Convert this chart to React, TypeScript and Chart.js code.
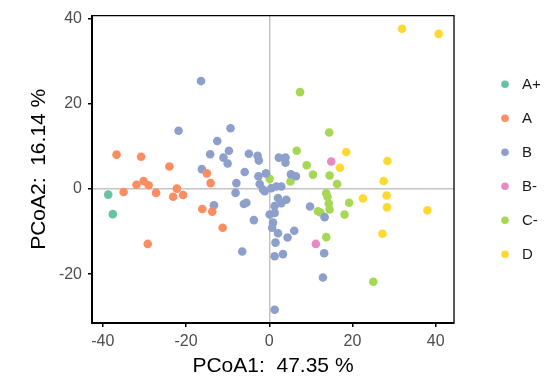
import React, { useEffect, useRef } from "react";
import { Chart, registerables } from "chart.js";

Chart.register(...registerables);

const groupLabels = ["A+", "A", "B", "B-", "C-", "D"];
const groupColors = ["#66C2A5", "#FC8D62", "#8DA0CB", "#E78AC3", "#A6D854", "#FFD92F"];

const pointsAPlus: [number, number][] = [[-38.7, -1.3], [-37.6, -5.9]];

const pointsA: [number, number][] = [
  [-36.7, 8.1], [-30.8, 7.6], [-24.0, 5.3], [-15.0, 3.7], [-14.1, 1.4], [-31.9, 1.0],
  [-30.2, 1.9], [-29.0, 0.9], [-35.0, -0.7], [-27.2, -0.9], [-22.2, 0.1], [-23.1, -1.8],
  [-20.7, -1.4], [-16.1, -4.7], [-13.7, -5.3], [-11.2, -9.1], [-29.2, -12.9],
];

const pointsB: [number, number][] = [
  [-16.4, 25.4], [-21.8, 13.7], [-9.3, 14.3], [-12.5, 11.3], [-14.2, 8.2], [-9.7, 9.0],
  [-11.0, 7.4], [-10.0, 6.0], [-4.9, 8.3], [-2.8, 7.8], [-2.5, 6.7], [-16.2, 4.7],
  [-5.9, 4.0], [-2.6, 3.0], [-0.8, 3.7], [-2.3, 1.2], [-7.9, 1.4], [-8.1, -0.9],
  [-1.5, -0.1], [-1.1, -0.5], [0.5, 0.2], [-13.3, -3.8], [-6.1, -3.5], [-5.5, -3.2],
  [-3.7, -7.3], [-6.5, -14.7], [1.3, -28.4], [2.3, 7.4], [3.9, 7.4], [3.9, 6.2],
  [5.2, 3.5], [6.4, 3.0], [1.7, 0.6], [2.9, 0.6], [2.1, -2.1], [4.1, -2.5],
  [2.9, -3.3], [1.3, -4.0], [0.1, -6.0], [1.3, -5.6], [0.9, -7.9], [0.7, -9.1],
  [2.1, -10.4], [6.0, -9.8], [4.4, -11.4], [1.5, -12.6], [1.3, -15.8], [3.3, -15.3],
  [9.8, -4.1], [13.3, -6.6], [13.2, -15.1], [12.9, -20.8],
];

const pointsBMinus: [number, number][] = [[14.9, 6.5], [11.2, -12.9]];

const pointsCMinus: [number, number][] = [
  [0.1, 2.4], [6.6, 9.0], [9.0, 5.6], [10.5, 3.4], [14.5, 3.2], [16.3, 1.2],
  [5.1, 1.8], [13.7, -1.0], [14.0, -1.8], [14.3, -3.4], [14.5, -4.8], [11.7, -5.2],
  [12.3, -5.5], [19.2, -3.2], [18.1, -6.0], [13.7, -11.3], [25.0, -21.8], [7.4, 22.8],
  [14.4, 13.3],
];

const pointsD: [number, number][] = [
  [31.9, 37.7], [40.7, 36.5], [18.5, 8.7], [17.0, 5.0], [28.4, 6.6], [27.5, 1.9],
  [22.5, -2.2], [28.2, -1.5], [28.3, -4.3], [38.0, -5.0], [27.2, -10.5],
];

const groupPoints = [pointsAPlus, pointsA, pointsB, pointsBMinus, pointsCMinus, pointsD];

const xTickValues = [-40, -20, 0, 20, 40];
const yTickValues = [-20, 0, 20, 40];
const xLimits = [-42.6, 44.4];
const yLimits = [-31.5, 40.8];
const xTitle = "PCoA1:  47.35 %";
const yTitle = "PCoA2:  16.14 %";

const FONT = '"Liberation Sans", Arial, Helvetica, sans-serif';

const framePlugin = {
  id: "frameAndLegend",
  afterDatasetsDraw(chart: any) {
    const { ctx, chartArea } = chart;
    const { left, right, top, bottom } = chartArea;
    ctx.save();
    ctx.strokeStyle = "#000";
    ctx.lineWidth = 1.3;
    ctx.beginPath();
    ctx.moveTo(left, top);
    ctx.lineTo(right, top);
    ctx.lineTo(right, bottom);
    ctx.stroke();
    ctx.restore();
  },
  afterDraw(chart: any) {
    const { ctx, chartArea } = chart;
    const datasets = chart.data.datasets;
    const n = datasets.length;
    const spacing = 34;
    const cy = (chartArea.top + chartArea.bottom) / 2;
    const cx = chartArea.right + 51;
    ctx.save();
    ctx.font = `15px ${FONT}`;
    ctx.textBaseline = "middle";
    ctx.textAlign = "left";
    datasets.forEach((ds: any, i: number) => {
      const y = cy + (i - (n - 1) / 2) * spacing;
      ctx.beginPath();
      ctx.arc(cx, y, 3.8, 0, Math.PI * 2);
      ctx.fillStyle = ds.backgroundColor;
      ctx.fill();
      ctx.fillStyle = "#1a1a1a";
      ctx.fillText(ds.label, cx + 17, y + 0.5);
    });
    ctx.restore();
  },
};

export default function App() {
  const canvasRef = useRef<HTMLCanvasElement | null>(null);

  useEffect(() => {
    document.body.style.margin = "0";
    const canvas = canvasRef.current;
    if (!canvas) return;

    const datasets = groupLabels.map((label, i) => ({
      label,
      data: groupPoints[i].map(([x, y]) => ({ x, y })),
      backgroundColor: groupColors[i],
      borderColor: groupColors[i],
      borderWidth: 0,
      pointRadius: 4.3,
      pointHoverRadius: 4.3,
    }));

    const chart = new Chart(canvas, {
      type: "scatter",
      data: { datasets },
      plugins: [framePlugin],
      options: {
        animation: false,
        responsive: false,
        events: [],
        layout: { padding: { top: 12, right: 97, left: 0, bottom: 0 } },
        plugins: {
          legend: { display: false },
          tooltip: { enabled: false },
        },
        scales: {
          x: {
            type: "linear",
            min: xLimits[0],
            max: xLimits[1],
            afterBuildTicks: (scale: any) => {
              scale.ticks = xTickValues.map((v) => ({ value: v }));
            },
            afterFit: (scale: any) => {
              scale.height = 56;
            },
            grid: {
              color: (ctx: any) => (ctx.tick && ctx.tick.value === 0 ? "#C4C4C4" : "rgba(0,0,0,0)"),
              lineWidth: 1.5,
              drawTicks: true,
              tickLength: 4,
              tickColor: "#000",
              tickWidth: 1.5,
            },
            border: { display: true, color: "#000", width: 2 },
            ticks: {
              color: "#4D4D4D",
              font: { family: FONT, size: 16 },
              padding: 5,
              maxRotation: 0,
            },
            title: {
              display: true,
              text: xTitle,
              color: "#000",
              font: { family: FONT, size: 21 },
              padding: { top: 0, bottom: 0 },
            },
          },
          y: {
            type: "linear",
            min: yLimits[0],
            max: yLimits[1],
            afterBuildTicks: (scale: any) => {
              scale.ticks = yTickValues.map((v) => ({ value: v }));
            },
            afterFit: (scale: any) => {
              scale.width = 92;
            },
            grid: {
              color: (ctx: any) => (ctx.tick && ctx.tick.value === 0 ? "#C4C4C4" : "rgba(0,0,0,0)"),
              lineWidth: 1.5,
              drawTicks: true,
              tickLength: 4,
              tickColor: "#000",
              tickWidth: 1.5,
            },
            border: { display: true, color: "#000", width: 2 },
            ticks: {
              color: "#4D4D4D",
              font: { family: FONT, size: 16 },
              padding: 6,
            },
            title: {
              display: true,
              text: yTitle,
              color: "#000",
              font: { family: FONT, size: 21 },
              padding: { top: 27, bottom: 0 },
            },
          },
        },
      },
    } as any);

    return () => chart.destroy();
  }, []);

  return (
    <div style={{ position: "absolute", left: 0, top: 0, width: 551, height: 379 }}>
      <canvas ref={canvasRef} width={551} height={379} />
    </div>
  );
}
